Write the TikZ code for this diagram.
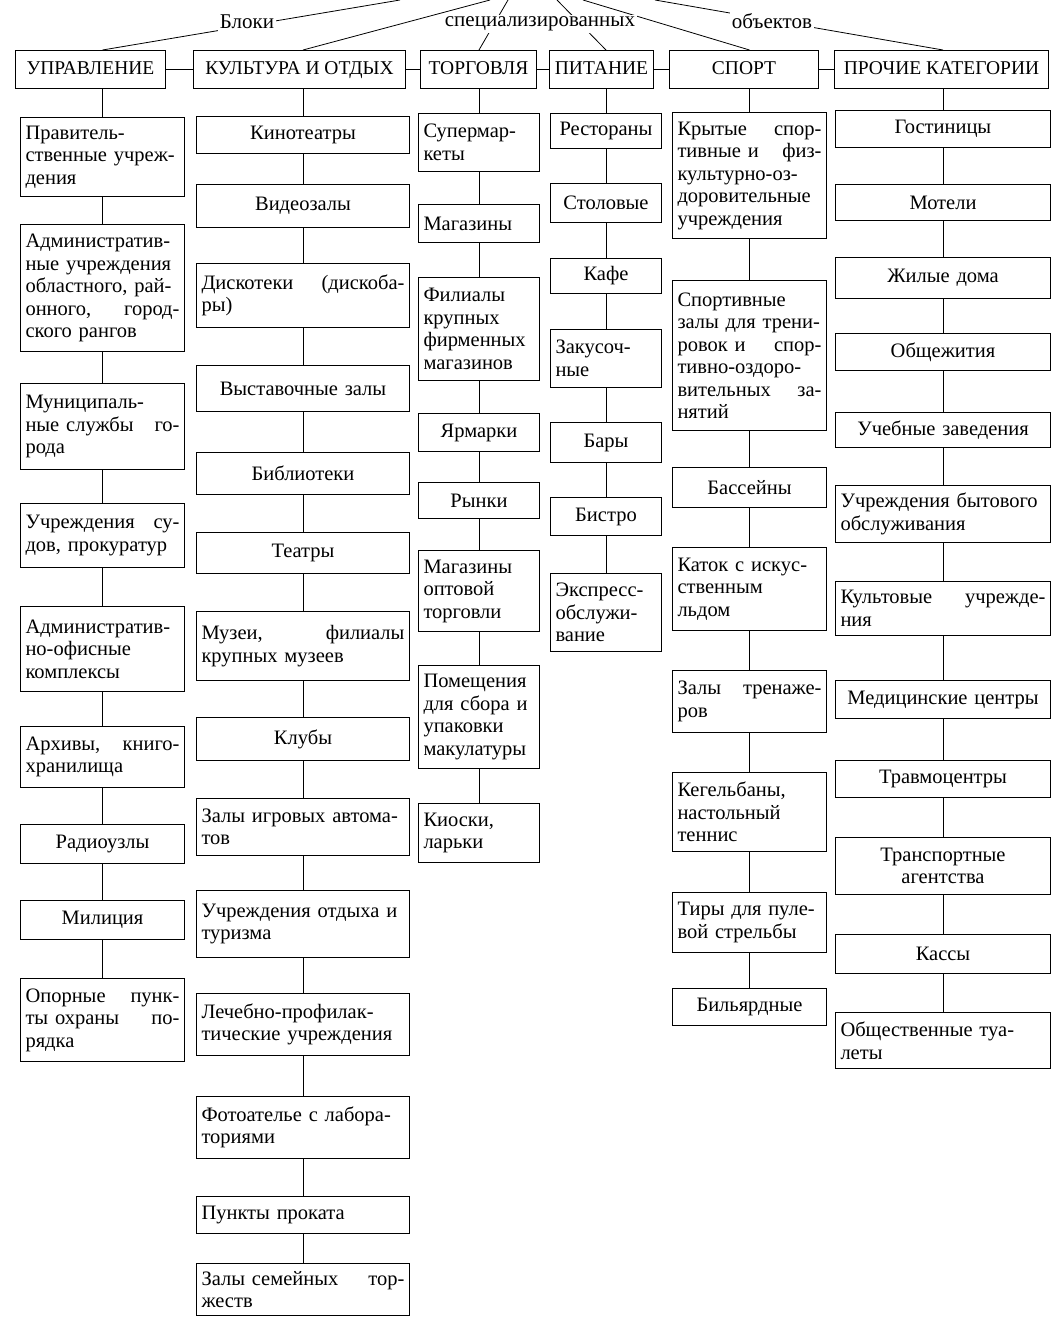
\documentclass[tikz,border=0pt]{standalone}
\usepackage{fontspec}
\setmainfont{Liberation Serif}
\usetikzlibrary{positioning}
\newcommand{\blkfont}{\fontsize{20.5}{22.5}\selectfont}
\newcommand{\hdrfont}{\fontsize{19.5}{21}\selectfont}
\tikzset{
  blk/.style={draw, line width=1pt, anchor=north west, inner xsep=5pt, inner ysep=0pt,
              font=\blkfont, align=left},
  cblk/.style={blk, align=center},
  hdr/.style={draw, line width=1pt, anchor=north west, inner sep=0pt,
              text height=14pt, text depth=4pt, minimum height=38pt, font=\hdrfont},
  lnk/.style={line width=1pt},
  ray/.style={line width=0.8pt},
  ttl/.style={fill=white, inner sep=2pt, font=\fontsize{21}{22}\selectfont},
  % column widths
  c1/.style={text width=154pt},
  c2/.style={text width=203pt},
  c3/.style={text width=111pt},
  c4/.style={text width=101pt},
  c5/.style={text width=144pt},
  c6/.style={text width=205pt},
}

\begin{document}
\begin{tikzpicture}[x=1pt, y=-1pt]
  \useasboundingbox (0,0) rectangle (1056,1326);
  \fill[white] (0,0) rectangle (1056,1326);

  % headers
  \node[hdr, minimum width=150pt] (upr) at (15,50) {УПРАВЛЕНИЕ};
  \node[hdr, minimum width=212pt] (kult) at (193,50) {КУЛЬТУРА И ОТДЫХ};
  \node[hdr, minimum width=116pt] (torg) at (420,50) {ТОРГОВЛЯ};
  \node[hdr, minimum width=104pt] (pit) at (549,50) {ПИТАНИЕ};
  \node[hdr, minimum width=149pt] (sport) at (669,50) {СПОРТ};
  \node[hdr, minimum width=214pt] (proch) at (834,50) {ПРОЧИЕ КАТЕГОРИИ};

  % управление
  \node[blk, c1, minimum height=79pt] (prav) at (20,117) {Правитель-\\ственные учреж-\\дения};
  \node[blk, c1, minimum height=127pt] (adm) at (20,224) {Административ-\\ные учреждения\\областного, рай-\\онного,\hfill город-\\ского рангов};
  \node[blk, c1, minimum height=86pt] (mun) at (20,383) {Муниципаль-\\ные службы\hfill го-\\рода};
  \node[blk, c1, minimum height=64pt] (sud) at (20,503) {Учреждения\hfill су-\\дов, прокуратур};
  \node[blk, c1, minimum height=85pt] (ofis) at (20,606) {Административ-\\но-офисные\\комплексы};
  \node[blk, c1, minimum height=61pt] (arh) at (20,726) {Архивы,\hfill книго-\\хранилища};
  \node[cblk, c1, minimum height=39pt] (radio) at (20,824) {Радиоузлы};
  \node[cblk, c1, minimum height=39pt] (mil) at (20,900) {Милиция};
  \node[blk, c1, minimum height=83pt] (opor) at (20,978) {Опорные\hfill пунк-\\ты охраны\hfill по-\\рядка};

  % культура и отдых
  \node[cblk, c2, minimum height=37pt] (kino) at (196,116) {Кинотеатры};
  \node[cblk, c2, minimum height=43pt] (video) at (196,184) {Видеозалы};
  \node[blk, c2, minimum height=64pt] (disko) at (196,263) {Дискотеки\hfill (дискоба-\\ры)};
  \node[cblk, c2, minimum height=46pt] (vyst) at (196,365) {Выставочные залы};
  \node[cblk, c2, minimum height=42pt] (bibl) at (196,452) {Библиотеки};
  \node[cblk, c2, minimum height=41pt] (teatr) at (196,532) {Театры};
  \node[blk, c2, minimum height=69pt] (muz) at (196,611) {Музеи,\hfill филиалы\\крупных музеев};
  \node[cblk, c2, minimum height=43pt] (klub) at (196,717) {Клубы};
  \node[blk, c2, minimum height=57pt] (igr) at (196,798) {Залы игровых автома-\\тов};
  \node[blk, c2, minimum height=67pt] (otd) at (196,890) {Учреждения отдыха и\\туризма};
  \node[blk, c2, minimum height=62pt] (lech) at (196,993) {Лечебно-профилак-\\тические учреждения};
  \node[blk, c2, minimum height=62pt] (foto) at (196,1096) {Фотоателье с лабора-\\ториями};
  \node[blk, c2, minimum height=37pt] (prokat) at (196,1196) {Пункты проката};
  \node[blk, c2, minimum height=52pt] (torzh) at (196,1263) {Залы семейных\hfill тор-\\жеств};

  % торговля
  \node[blk, c3, minimum height=58pt] (super) at (418,113) {Супермар-\\кеты};
  \node[blk, c3, minimum height=38pt] (mag) at (418,204) {Магазины};
  \node[blk, c3, minimum height=103pt] (fil) at (418,277) {Филиалы\\крупных\\фирменных\\магазинов};
  \node[cblk, c3, minimum height=38pt] (yarm) at (418,413) {Ярмарки};
  \node[cblk, c3, minimum height=36pt] (rynki) at (418,482) {Рынки};
  \node[blk, c3, minimum height=81pt] (opt) at (418,550) {Магазины\\оптовой\\торговли};
  \node[blk, c3, minimum height=103pt] (pom) at (418,665) {Помещения\\для сбора и\\упаковки\\макулатуры};
  \node[blk, c3, minimum height=59pt] (kiosk) at (418,803) {Киоски,\\ларьки};

  % питание
  \node[cblk, c4, minimum height=35pt] (rest) at (550,113) {Рестораны};
  \node[cblk, c4, minimum height=39pt] (stol) at (550,183) {Столовые};
  \node[cblk, c4, minimum height=35pt] (kafe) at (550,258) {Кафе};
  \node[blk, c4, minimum height=58pt] (zak) at (550,329) {Закусоч-\\ные};
  \node[cblk, c4, minimum height=40pt] (bary) at (550,422) {Бары};
  \node[cblk, c4, minimum height=38pt] (bistro) at (550,497) {Бистро};
  \node[blk, c4, minimum height=78pt] (ekspr) at (550,573) {Экспресс-\\обслужи-\\вание};

  % спорт
  \node[blk, c5, minimum height=126pt] (kryt) at (672,112) {Крытые\hfill спор-\\тивные и\hfill физ-\\культурно-оз-\\доровительные\\учреждения};
  \node[blk, c5, minimum height=150pt] (sportz) at (672,280) {Спортивные\\залы для трени-\\ровок и\hfill спор-\\тивно-оздоро-\\вительных\hfill за-\\нятий};
  \node[cblk, c5, minimum height=40pt] (bass) at (672,467) {Бассейны};
  \node[blk, c5, minimum height=83pt] (katok) at (672,547) {Каток с искус-\\ственным\\льдом};
  \node[blk, c5, minimum height=62pt] (trenazh) at (672,670) {Залы\hfill тренаже-\\ров};
  \node[blk, c5, minimum height=79pt] (kegel) at (672,772) {Кегельбаны,\\настольный\\теннис};
  \node[blk, c5, minimum height=60pt] (tiry) at (672,892) {Тиры для пуле-\\вой стрельбы};
  \node[cblk, c5, minimum height=37pt] (bil) at (672,988) {Бильярдные};

  % прочие категории
  \node[cblk, c6, minimum height=37pt] (gost) at (835,110) {Гостиницы};
  \node[cblk, c6, minimum height=36pt] (motel) at (835,184) {Мотели};
  \node[cblk, c6, minimum height=41pt] (zhil) at (835,257) {Жилые дома};
  \node[cblk, c6, minimum height=37pt] (obshch) at (835,333) {Общежития};
  \node[cblk, c6, minimum height=35pt] (ucheb) at (835,412) {Учебные заведения};
  \node[blk, c6, minimum height=57pt] (byt) at (835,485) {Учреждения бытового\\обслуживания};
  \node[blk, c6, minimum height=54pt] (kultov) at (835,581) {Культовые\hfill учрежде-\\ния};
  \node[cblk, c6, minimum height=38pt] (med) at (835,680) {Медицинские центры};
  \node[cblk, c6, minimum height=37pt] (travm) at (835,760) {Травмоцентры};
  \node[cblk, c6, minimum height=57pt] (transp) at (835,837) {Транспортные\\агентства};
  \node[cblk, c6, minimum height=39pt] (kassy) at (835,934) {Кассы};
  \node[blk, c6, minimum height=56pt] (tual) at (835,1012) {Общественные туа-\\леты};

  % links between headers
  \draw[lnk] (upr) -- (kult) (kult) -- (torg) (torg) -- (pit) (pit) -- (sport) (sport) -- (proch);

  % column links
  \draw[lnk] (upr.south -| prav.north) -- (prav) (prav) -- (adm) (adm) -- (mun) (mun) -- (sud)
    (sud) -- (ofis) (ofis) -- (arh) (arh) -- (radio) (radio) -- (mil) (mil) -- (opor);
  \draw[lnk] (kult.south -| kino.north) -- (kino) (kino) -- (video) (video) -- (disko)
    (disko) -- (vyst) (vyst) -- (bibl) (bibl) -- (teatr) (teatr) -- (muz) (muz) -- (klub)
    (klub) -- (igr) (igr) -- (otd) (otd) -- (lech) (lech) -- (foto) (foto) -- (prokat)
    (prokat) -- (torzh);
  \draw[lnk] (torg.south -| super.north) -- (super) (super) -- (mag) (mag) -- (fil)
    (fil) -- (yarm) (yarm) -- (rynki) (rynki) -- (opt) (opt) -- (pom) (pom) -- (kiosk);
  \draw[lnk] (pit.south -| rest.north) -- (rest) (rest) -- (stol) (stol) -- (kafe)
    (kafe) -- (zak) (zak) -- (bary) (bary) -- (bistro) (bistro) -- (ekspr);
  \draw[lnk] (sport.south -| kryt.north) -- (kryt) (kryt) -- (sportz) (sportz) -- (bass)
    (bass) -- (katok) (katok) -- (trenazh) (trenazh) -- (kegel) (kegel) -- (tiry) (tiry) -- (bil);
  \draw[lnk] (proch.south -| gost.north) -- (gost) (gost) -- (motel) (motel) -- (zhil)
    (zhil) -- (obshch) (obshch) -- (ucheb) (ucheb) -- (byt) (byt) -- (kultov) (kultov) -- (med)
    (med) -- (travm) (travm) -- (transp) (transp) -- (kassy) (kassy) -- (tual);

  % rays from the top
  \coordinate (hu) at (400,0);
  \coordinate (hk) at (490,0);
  \coordinate (ht) at (508,0);
  \coordinate (hp) at (557,0);
  \coordinate (hs) at (583,0);
  \coordinate (ho) at (655,0);
  \draw[ray] (hu) -- (upr.north -| prav.north);
  \draw[ray] (hk) -- (kult.north -| kino.north);
  \draw[ray] (ht) -- (torg.north -| super.north);
  \draw[ray] (hp) -- (pit.north -| rest.north);
  \draw[ray] (hs) -- (sport.north -| kryt.north);
  \draw[ray] (ho) -- (proch.north -| gost.north);

  \node[ttl] (w1) at (247,22) {Блоки};
  \node[ttl] (w2) at (540,24) {специализированных};
  \node[ttl] (w3) at (772,21) {объектов};
\end{tikzpicture}
\end{document}
